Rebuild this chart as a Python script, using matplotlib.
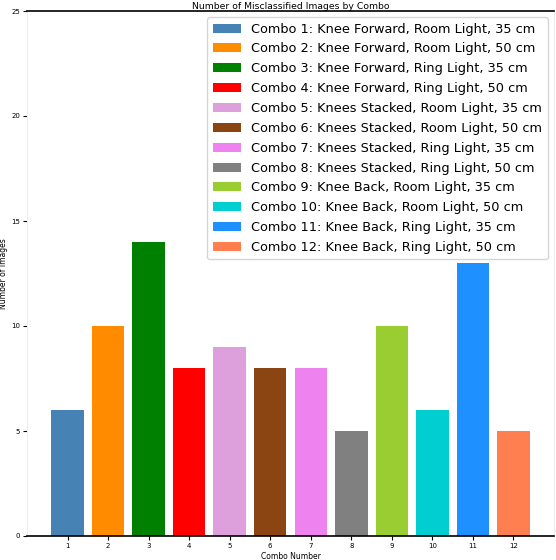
import matplotlib
matplotlib.use("Agg")
import matplotlib.pyplot as plt

combos = list(range(1, 13))
misclassified = [6, 10, 14, 8, 9, 8, 8, 5, 10, 6, 13, 5]
labels = [
    "Combo 1: Knee Forward, Room Light, 35 cm",
    "Combo 2: Knee Forward, Room Light, 50 cm",
    "Combo 3: Knee Forward, Ring Light, 35 cm",
    "Combo 4: Knee Forward, Ring Light, 50 cm",
    "Combo 5: Knees Stacked, Room Light, 35 cm",
    "Combo 6: Knees Stacked, Room Light, 50 cm",
    "Combo 7: Knees Stacked, Ring Light, 35 cm",
    "Combo 8: Knees Stacked, Ring Light, 50 cm",
    "Combo 9: Knee Back, Room Light, 35 cm",
    "Combo 10: Knee Back, Room Light, 50 cm",
    "Combo 11: Knee Back, Ring Light, 35 cm",
    "Combo 12: Knee Back, Ring Light, 50 cm",
]
colors = ["steelblue", "darkorange", "green", "red", "plum", "saddlebrown",
          "violet", "gray", "yellowgreen", "darkturquoise", "dodgerblue", "coral"]

fig = plt.figure(figsize=(5.56, 5.6), dpi=100)
ax = fig.add_axes([27 / 556, 24 / 560, 527 / 556, 525 / 560])

for c, v, lab, col in zip(combos, misclassified, labels, colors):
    ax.bar(c, v, width=0.8, color=col, label=lab)

ax.set_xlim(0, 13)
ax.set_ylim(0, 25)
ax.set_xticks(combos)
ax.set_yticks([0, 5, 10, 15, 20, 25])
ax.tick_params(labelsize=5, length=3, width=0.8, pad=2)
ax.set_xlabel("Combo Number", fontsize=5.5, labelpad=2)
ax.set_ylabel("Number of Images", fontsize=5.5, labelpad=2)
ax.set_title("Number of Misclassified Images by Combo", fontsize=6.7, pad=1.5)

for side in ["left", "right"]:
    ax.spines[side].set_color("#eeeeee")
for side in ["top", "bottom"]:
    ax.spines[side].set_color("black")
    ax.spines[side].set_linewidth(1.2)

ax.legend(loc="upper right", fontsize=9.3, labelspacing=0.53,
          handlelength=2.2, borderaxespad=0.5, framealpha=0.8)

fig.savefig("out.png", dpi=100)
